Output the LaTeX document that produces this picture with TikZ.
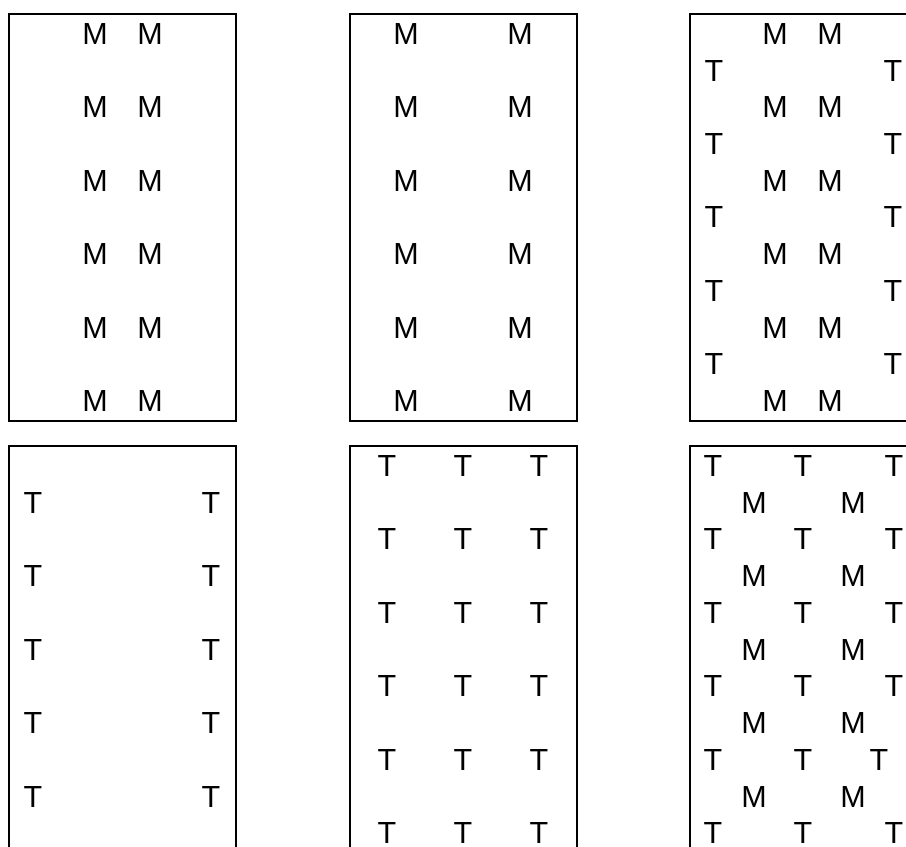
\documentclass[tikz,border=0pt]{standalone}
\usepackage{fontspec}
\setmainfont{Liberation Sans}

\begin{document}
\begin{tikzpicture}[x=1pt, y=-1pt,
    panel/.style={draw=black, line width=2pt, rectangle, minimum width=227pt, minimum height=407pt, inner sep=0pt},
    letter/.style={font=\fontsize{30.5}{36}\selectfont, inner sep=0pt}
]
\useasboundingbox (0,0) rectangle (906,847);
\clip (0,0) rectangle (906,847);

% Felder
\node[panel] (p1) at (122.5,217.5) {};
\node[panel] (p2) at (463,217.5) {};
\node[panel] (p3) at (803.5,217.5) {};
\node[panel] (p4) at (122.5,649.5) {};
\node[panel] (p5) at (463,649.5) {};
\node[panel] (p6) at (803.5,649.5) {};

% obere Reihe
\foreach \k in {0,...,5} {
    \node[letter] (a-m1-\k) at (95,{34+73.4*\k}) {M};
    \node[letter] (a-m2-\k) at (150,{34+73.4*\k}) {M};
    \node[letter] (b-m1-\k) at (406,{34+73.4*\k}) {M};
    \node[letter] (b-m2-\k) at (520,{34+73.4*\k}) {M};
    \node[letter] (c-m1-\k) at (775,{34+73.4*\k}) {M};
    \node[letter] (c-m2-\k) at (830,{34+73.4*\k}) {M};
}
\foreach \k in {0,...,4} {
    \node[letter] (c-t1-\k) at (714,{70.7+73.4*\k}) {T};
    \node[letter] (c-t2-\k) at (893,{70.7+73.4*\k}) {T};
}

% untere Reihe
\foreach \k in {0,...,4} {
    \node[letter] (d-t1-\k) at (33,{503+73.4*\k}) {T};
    \node[letter] (d-t2-\k) at (211,{503+73.4*\k}) {T};
    \node[letter] (f-m1-\k) at (754,{503+73.4*\k}) {M};
    \node[letter] (f-m2-\k) at (853,{503+73.4*\k}) {M};
}
\foreach \k/\xr in {0/894,1/894,2/894,3/894,4/879,5/894} {
    \node[letter] (e-t1-\k) at (387,{466+73.4*\k}) {T};
    \node[letter] (e-t2-\k) at (463,{466+73.4*\k}) {T};
    \node[letter] (e-t3-\k) at (539,{466+73.4*\k}) {T};
    \node[letter] (f-t1-\k) at (713,{466+73.4*\k}) {T};
    \node[letter] (f-t2-\k) at (803,{466+73.4*\k}) {T};
    \node[letter] (f-t3-\k) at (\xr,{466+73.4*\k}) {T};
}

\end{tikzpicture}
\end{document}
